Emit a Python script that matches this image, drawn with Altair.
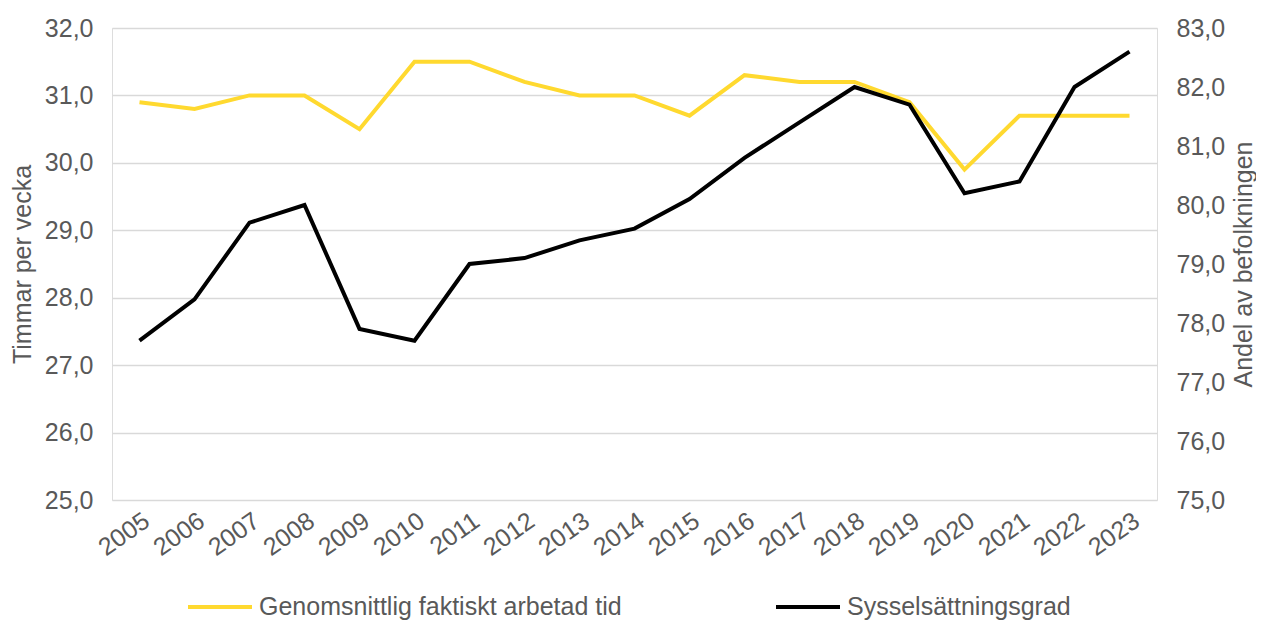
import altair as alt
import pandas as pd

years = [str(y) for y in range(2005, 2024)]
hours = [30.9, 30.8, 31.0, 31.0, 30.5, 31.5, 31.5, 31.2, 31.0, 31.0, 30.7, 31.3, 31.2, 31.2, 30.9, 29.9, 30.7, 30.7, 30.7]
employment = [77.7, 78.4, 79.7, 80.0, 77.9, 77.7, 79.0, 79.1, 79.4, 79.6, 80.1, 80.8, 81.4, 82.0, 81.7, 80.2, 80.4, 82.0, 82.6]
s1 = "Genomsnittlig faktiskt arbetad tid"
s2 = "Sysselsättningsgrad"

df = pd.DataFrame({
    "year": years * 2,
    "value": hours + employment,
    "series": [s1] * len(years) + [s2] * len(years),
})

FONT = "Liberation Sans"
GREY = "#595959"
FS = 25
label_expr = "replace(format(datum.value, '.1f'), '.', ',')"

color = alt.Color(
    "series:N",
    scale=alt.Scale(domain=[s1, s2], range=["#FFD92F", "#000000"]),
    legend=alt.Legend(
        title=None, orient="none", direction="horizontal",
        legendX=74, legendY=545, padding=0,
        symbolType="stroke", symbolSize=4096, symbolStrokeWidth=4,
        labelFont=FONT, labelFontSize=FS, labelColor=GREY,
        columnPadding=146, labelOffset=5, labelLimit=600,
    ),
)

x = alt.X(
    "year:O", scale=alt.Scale(type="point", padding=0.5), title=None,
    axis=alt.Axis(labelAngle=-35, labelFont=FONT, labelFontSize=FS, labelColor=GREY,
                  domain=False, ticks=False, labelPadding=8, grid=False),
)

left = alt.Chart(df).transform_filter(alt.datum.series == s1).mark_line(strokeWidth=4).encode(
    x=x,
    y=alt.Y("value:Q", scale=alt.Scale(domain=[25, 32], nice=False, zero=False),
            axis=alt.Axis(title="Timmar per vecka", values=[25, 26, 27, 28, 29, 30, 31, 32],
                          labelExpr=label_expr, labelFont=FONT, labelFontSize=FS, labelColor=GREY,
                          titleFont=FONT, titleFontSize=FS, titleColor=GREY, titleFontWeight="normal",
                          titleX=-90, titleY=236, titleAngle=270, titleAlign="center", titleBaseline="middle",
                          labelPadding=19,
                          domain=False, ticks=False, grid=True, gridColor="#D9D9D9", gridWidth=1.5)),
    color=color,
)

right = alt.Chart(df).transform_filter(alt.datum.series == s2).mark_line(strokeWidth=4).encode(
    x=x,
    y=alt.Y("value:Q", scale=alt.Scale(domain=[75, 83], nice=False, zero=False),
            axis=alt.Axis(orient="right", title="Andel av befolkningen",
                          values=[75, 76, 77, 78, 79, 80, 81, 82, 83],
                          labelExpr=label_expr, labelFont=FONT, labelFontSize=FS, labelColor=GREY,
                          titleFont=FONT, titleFontSize=FS, titleColor=GREY, titleFontWeight="normal",
                          titleX=86, titleY=236, titleAngle=270, titleAlign="center", titleBaseline="middle",
                          labelPadding=19,
                          domain=False, ticks=False, grid=False)),
    color=color,
)

chart = alt.layer(left, right).resolve_scale(y="independent").properties(
    width=1045, height=472,
    autosize=alt.AutoSizeParams(type="none"),
    padding={"left": 104, "top": 20, "right": 99, "bottom": 124},
).configure_view(stroke=None).configure(background="white")

chart.save("out.html", embed_options={"renderer": "svg", "actions": False})
